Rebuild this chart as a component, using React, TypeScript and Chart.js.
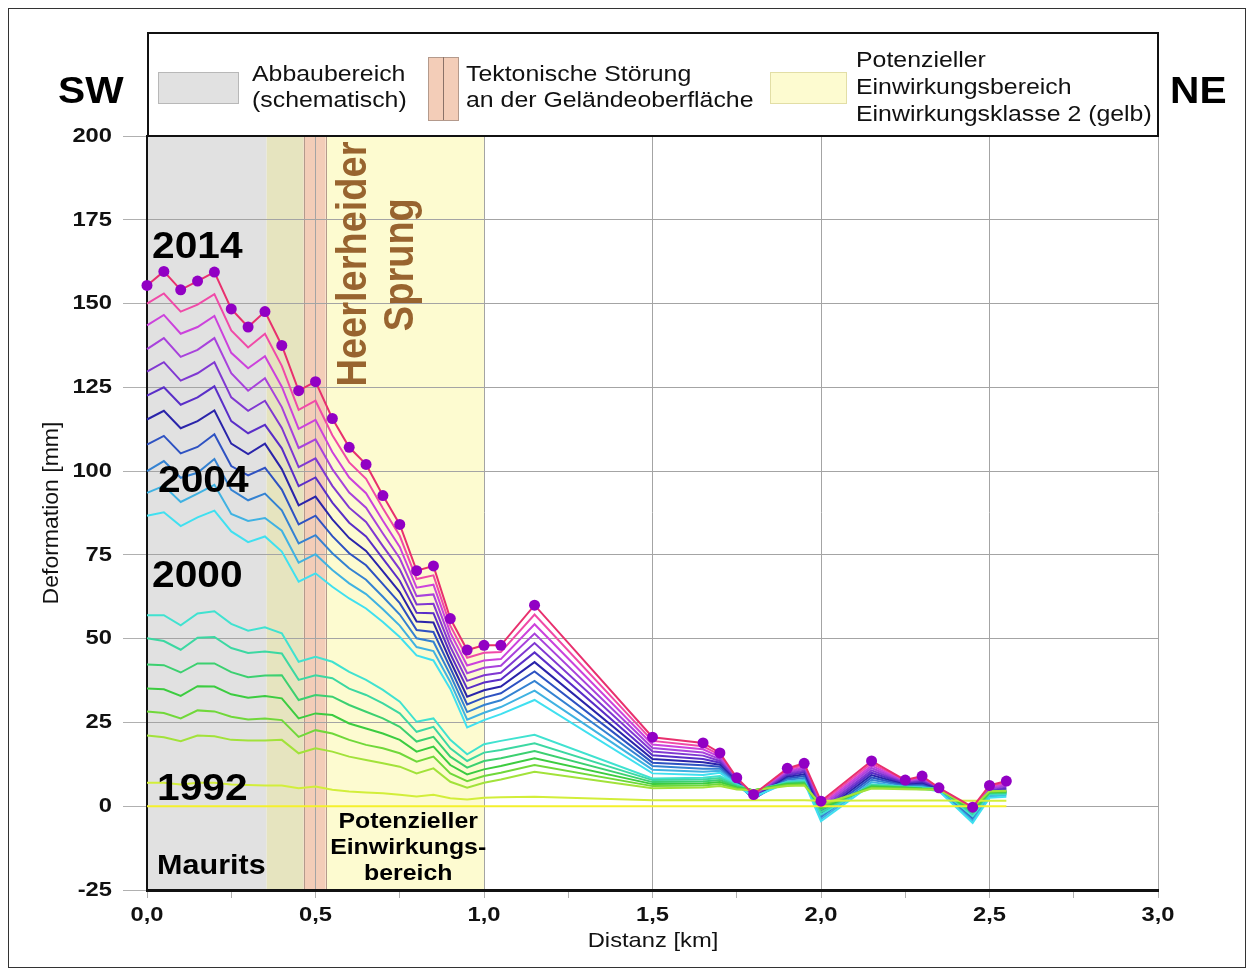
import React, { useEffect, useRef } from "react";
import { Chart, registerables } from "chart.js";

Chart.register(...registerables);

// ---------- data ----------
const distanceKm = [0, 0.05, 0.1, 0.15, 0.2, 0.25, 0.3, 0.35, 0.4, 0.45, 0.5, 0.55, 0.6, 0.65, 0.7, 0.75, 0.8, 0.85, 0.9, 0.95, 1.0, 1.05, 1.15, 1.5, 1.65, 1.7, 1.75, 1.8, 1.9, 1.95, 2.0, 2.15, 2.25, 2.3, 2.35, 2.45, 2.5, 2.55];

const y2014 = [155.4, 159.6, 154.1, 156.7, 159.4, 148.4, 143.0, 147.6, 137.5, 124.0, 126.7, 115.7, 107.1, 102.0, 92.7, 84.1, 70.3, 71.7, 56.0, 46.6, 48.0, 48.0, 60.0, 20.6, 18.9, 15.9, 8.5, 3.5, 11.3, 12.8, 1.5, 13.5, 7.8, 9.0, 5.5, -0.3, 6.2, 7.5];
const y2013 = [150.0, 153.0, 147.6, 149.7, 152.8, 142.0, 136.9, 141.0, 131.4, 118.3, 121.0, 110.7, 102.6, 97.7, 88.9, 80.7, 67.8, 68.9, 53.9, 44.3, 45.8, 46.0, 57.2, 19.5, 17.9, 15.3, 8.3, 3.2, 10.9, 12.3, 0.9, 12.8, 7.6, 8.6, 5.4, -0.8, 5.8, 7.0];
const y2012 = [143.5, 146.6, 141.0, 143.0, 146.3, 135.3, 130.7, 134.3, 125.2, 112.6, 115.3, 105.7, 98.1, 93.4, 85.2, 77.4, 65.2, 66.1, 51.8, 42.0, 43.5, 43.9, 54.3, 18.4, 17.0, 14.7, 8.1, 3.0, 10.4, 11.7, 0.3, 12.1, 7.3, 8.3, 5.3, -1.2, 5.5, 6.6];
const y2011 = [136.4, 139.7, 134.1, 136.2, 139.7, 129.2, 124.0, 127.7, 119.1, 106.9, 109.5, 100.6, 93.6, 89.1, 81.4, 74.0, 62.7, 63.2, 49.7, 39.7, 41.3, 41.9, 51.5, 17.4, 16.0, 14.1, 7.8, 2.8, 10.0, 11.2, -0.3, 11.4, 7.1, 7.9, 5.2, -1.7, 5.1, 6.1];
const y2010 = [129.7, 132.5, 127.0, 129.2, 132.5, 122.0, 118.0, 121.0, 112.9, 101.2, 103.8, 95.6, 89.1, 84.8, 77.6, 70.7, 60.2, 60.4, 47.6, 37.4, 39.1, 39.8, 48.7, 16.3, 15.1, 13.5, 7.6, 2.6, 9.6, 10.6, -0.9, 10.7, 6.9, 7.5, 5.1, -2.2, 4.7, 5.6];
const y2009 = [122.5, 125.0, 119.8, 122.0, 125.3, 114.9, 111.3, 113.8, 106.8, 95.5, 98.1, 90.6, 84.6, 80.5, 73.9, 67.3, 57.7, 57.6, 45.5, 35.1, 36.9, 37.8, 45.9, 15.2, 14.1, 13.0, 7.4, 2.4, 9.2, 10.1, -1.5, 10.0, 6.7, 7.2, 5.0, -2.7, 4.4, 5.2];
const y2008 = [115.4, 118.0, 112.8, 114.9, 118.1, 108.2, 105.1, 108.2, 100.6, 89.8, 92.4, 85.6, 80.0, 76.2, 70.1, 63.9, 55.1, 54.8, 43.4, 32.7, 34.6, 35.7, 43.0, 14.1, 13.1, 12.4, 7.2, 2.2, 8.7, 9.5, -2.1, 9.3, 6.4, 6.8, 4.9, -3.1, 4.0, 4.7];
const y2007 = [107.9, 110.5, 105.3, 107.2, 111.0, 101.5, 98.7, 101.0, 94.5, 84.1, 86.7, 80.6, 75.5, 71.9, 66.3, 60.6, 52.6, 52.0, 41.3, 30.4, 32.4, 33.7, 40.2, 13.0, 12.2, 11.8, 7.0, 2.2, 8.3, 9.0, -2.7, 8.6, 6.2, 6.4, 4.8, -3.6, 3.6, 4.2];
const y2006 = [100.0, 103.0, 98.0, 99.5, 103.6, 94.4, 91.3, 93.3, 88.3, 78.4, 80.9, 75.5, 71.0, 67.6, 62.5, 57.2, 50.1, 49.1, 39.2, 28.1, 30.2, 31.6, 37.4, 12.0, 11.2, 11.2, 6.7, 2.3, 7.9, 8.4, -3.3, 7.9, 6.0, 6.0, 4.7, -4.1, 3.2, 3.7];
const y2005 = [93.5, 95.6, 90.8, 93.3, 95.9, 87.2, 85.1, 86.0, 82.2, 72.7, 75.2, 70.5, 66.5, 63.3, 58.8, 53.9, 47.5, 46.3, 37.1, 25.8, 27.9, 29.6, 34.5, 10.9, 10.3, 10.6, 6.5, 2.5, 7.4, 7.9, -3.9, 7.2, 5.7, 5.7, 4.6, -4.5, 2.9, 3.3];
const y2004 = [86.7, 87.7, 83.6, 86.2, 88.2, 82.0, 78.8, 80.5, 76.0, 67.0, 69.5, 65.5, 62.0, 59.0, 55.0, 50.5, 45.0, 43.5, 35.0, 23.5, 25.7, 27.5, 31.7, 9.8, 9.3, 10.0, 6.3, 2.8, 7.0, 7.3, -4.5, 6.5, 5.5, 5.3, 4.5, -5.0, 2.5, 2.8];
const y2000 = [57, 57, 54, 57.5, 58.2, 54.4, 52.4, 53.4, 51.6, 43.1, 44.6, 43.1, 40.1, 37.7, 34.7, 31.2, 25.2, 26.2, 19.8, 15.5, 18.5, 19.5, 21.3, 8.3, 8.5, 9, 6.5, 4.5, 7.2, 7.5, -2.5, 6.5, 5.8, 5.5, 5.3, -3, 3.5, 3.6];
const y1999 = [50.1, 49.3, 46.7, 50.3, 50.5, 47.2, 45.7, 46.2, 45.6, 37.7, 39.1, 38.2, 35.1, 33.2, 30.7, 27.7, 22.2, 23.7, 17.3, 13.5, 16, 16.8, 18.8, 7.8, 8, 8.4, 6.2, 4.6, 7, 7.3, -1.8, 6.3, 5.7, 5.4, 5.3, -2.3, 3.8, 3.9];
const y1998 = [42.3, 42.1, 39.9, 42.6, 42.6, 40, 38.5, 39, 39.1, 31.7, 33.2, 32.7, 30.2, 28.2, 26.2, 23.7, 19.3, 20.7, 14.8, 11.5, 13.5, 14.3, 16.5, 7.2, 7.4, 7.8, 5.9, 4.7, 6.8, 7, -1, 6, 5.6, 5.3, 5.2, -1.8, 4, 4.1];
const y1997 = [35.1, 34.9, 32.9, 35.8, 35.7, 33.4, 32.4, 32.9, 32.2, 26.2, 27.7, 27.2, 24.7, 23.2, 21.7, 19.8, 16.3, 17.8, 12.3, 9.5, 11, 12, 14.3, 6.6, 6.8, 7.2, 5.6, 4.8, 6.6, 6.8, -0.5, 5.8, 5.5, 5.2, 5.1, -1.2, 4.2, 4.3];
const y1996 = [28.3, 27.8, 26.2, 28.6, 28.3, 26.7, 25.9, 26.2, 25.7, 20.7, 22.7, 21.7, 19.8, 18.3, 17.3, 15.8, 13.3, 14.8, 9.8, 7.5, 9, 10, 12.3, 6, 6.2, 6.6, 5.3, 4.8, 6.3, 6.5, 0, 5.5, 5.3, 5.1, 5, -0.8, 4.4, 4.5];
const y1995 = [21.1, 20.6, 19.4, 21.1, 20.9, 19.8, 19.6, 19.6, 19.8, 15.8, 17.3, 16.3, 14.8, 13.8, 12.8, 11.8, 9.8, 11.3, 7.3, 5.5, 7, 8, 10.3, 5.4, 5.6, 6, 5, 4.8, 6, 6.2, 0.5, 5.3, 5.1, 5, 4.9, -0.4, 4.5, 4.6];
const y1994 = [7, 7, 6.5, 7, 7, 6.5, 6.3, 6.2, 6.2, 5.4, 5.9, 4.9, 4.4, 4.1, 3.9, 3.4, 2.9, 3.4, 2.4, 2, 2.5, 2.7, 2.8, 1.8, 1.8, 1.8, 1.8, 1.8, 1.8, 1.8, 1.6, 1.7, 1.7, 1.7, 1.7, 1.6, 1.6, 1.6];
const y1992 = [0, 0, 0, 0, 0, 0, 0, 0, 0, 0, 0, 0, 0, 0, 0, 0, 0, 0, 0, 0, 0, 0, 0, 0, 0, 0, 0, 0, 0, 0, 0, 0, 0, 0, 0, 0, 0, 0];

const seriesYears = ["2014", "2013", "2012", "2011", "2010", "2009", "2008", "2007", "2006", "2005", "2004", "2000", "1999", "1998", "1997", "1996", "1995", "1994", "1992"];
const seriesColors = ["#e8306e", "#f04aa8", "#cc42dc", "#a842dc", "#8038d2", "#5a2ec8", "#2a24aa", "#2e52c2", "#3482d2", "#40b2e2", "#40e0f0", "#40e2d0", "#3cd8a2", "#3cd070", "#3ccc40", "#70d83a", "#a2e23a", "#d2ee3a", "#f4f02c"];

const yTickValues = [200, 175, 150, 125, 100, 75, 50, 25, 0, -25];
const xTickValues = [0, 0.5, 1.0, 1.5, 2.0, 2.5, 3.0];

// zones along the profile (km)
const abbauKm = [0, 0.355];
const overlapKm = [0.355, 0.465];
const einwirkungKm = [0.53, 1.0];
const stoerungKm = [0.465, 0.53];

// in-plot labels: text, km, mm
const yearLabels: [string, number, number][] = [
  ["2014", 0.015, 166.6],
  ["2004", 0.033, 96.7],
  ["2000", 0.015, 68.4],
  ["1992", 0.03, 4.8],
];

const FONT = '"Liberation Sans", Arial, Helvetica, sans-serif';
const SX = 1.13;

export default function App() {
  const ref = useRef<HTMLCanvasElement>(null);

  useEffect(() => {
    const canvas = ref.current;
    if (!canvas) return;
    const series = [y2014, y2013, y2012, y2011, y2010, y2009, y2008, y2007, y2006, y2005, y2004, y2000, y1999, y1998, y1997, y1996, y1995, y1994, y1992];

    const datasets = series.map((vals, i) => ({
      label: seriesYears[i],
      data: vals.map((v, j) => ({ x: distanceKm[j], y: v })),
      borderColor: seriesColors[i],
      backgroundColor: seriesColors[i],
      borderWidth: 2,
      pointRadius: i === 0 ? 5.5 : 0,
      pointHoverRadius: i === 0 ? 5.5 : 0,
      pointBackgroundColor: "#9200c4",
      pointBorderWidth: 0,
      tension: 0,
      fill: false,
      clip: false as any,
      order: i === 0 ? 0 : series.length - i,
    }));

    const T = (
      ctx: CanvasRenderingContext2D,
      s: string,
      x: number,
      y: number,
      font: string,
      color = "#000",
      align: CanvasTextAlign = "left",
      rot = 0,
      k = SX
    ) => {
      ctx.save();
      ctx.translate(x, y);
      if (rot) {
        ctx.rotate(rot);
        ctx.scale(1, k);
      } else {
        ctx.scale(k, 1);
      }
      ctx.font = font;
      ctx.fillStyle = color;
      ctx.textAlign = align;
      ctx.textBaseline = "middle";
      ctx.fillText(s, 0, 0);
      ctx.restore();
    };

    const deco = {
      id: "deco",
      beforeDraw(chart: any) {
        const { ctx, chartArea: a } = chart;
        const xs = chart.scales.x;
        ctx.save();
        ctx.fillStyle = "#ffffff";
        ctx.fillRect(0, 0, chart.width, chart.height);
        const band = (r: number[], color: string) => {
          const p0 = xs.getPixelForValue(r[0]);
          const p1 = xs.getPixelForValue(r[1]);
          ctx.fillStyle = color;
          ctx.fillRect(p0, a.top, p1 - p0, a.bottom - a.top);
        };
        band(abbauKm, "#e1e1e1");
        band(overlapKm, "#e6e4bf");
        band(einwirkungKm, "#fdfbd0");
        band(stoerungKm, "#f3cdb8");
        // fault border lines
        ctx.strokeStyle = "#b49a8c";
        ctx.lineWidth = 1;
        for (const v of stoerungKm) {
          const p = Math.round(xs.getPixelForValue(v)) + 0.5;
          ctx.beginPath();
          ctx.moveTo(p, a.top);
          ctx.lineTo(p, a.bottom);
          ctx.stroke();
        }
        ctx.restore();
      },
      afterDraw(chart: any) {
        const { ctx, chartArea: a } = chart;
        const xs = chart.scales.x;
        const ys = chart.scales.y;
        ctx.save();

        // outer frame
        ctx.strokeStyle = "#333";
        ctx.lineWidth = 1;
        ctx.strokeRect(8.5, 8.5, 1237, 959);

        // legend box
        ctx.fillStyle = "#fff";
        ctx.fillRect(148, 33, 1010, 103);
        ctx.strokeStyle = "#111";
        ctx.lineWidth = 2;
        ctx.strokeRect(148, 33, 1010, 103);

        // swatches
        ctx.lineWidth = 1;
        ctx.fillStyle = "#e1e1e1";
        ctx.fillRect(158, 72, 80, 31);
        ctx.strokeStyle = "#b8b8b8";
        ctx.strokeRect(158.5, 72.5, 80, 31);

        ctx.fillStyle = "#f3cdb8";
        ctx.fillRect(428, 57, 30, 63);
        ctx.strokeStyle = "#b49a8c";
        ctx.strokeRect(428.5, 57.5, 30, 63);
        ctx.strokeStyle = "#8a7268";
        ctx.beginPath();
        ctx.moveTo(443.5, 57);
        ctx.lineTo(443.5, 120);
        ctx.stroke();

        ctx.fillStyle = "#fdfbd0";
        ctx.fillRect(770, 72, 76, 31);
        ctx.strokeStyle = "#e2dea6";
        ctx.strokeRect(770.5, 72.5, 76, 31);

        const lf = `22px ${FONT}`;
        T(ctx, "Abbaubereich", 252, 75, lf, "#111");
        T(ctx, "(schematisch)", 252, 101, lf, "#111");
        T(ctx, "Tektonische Störung", 466, 75, lf, "#111");
        T(ctx, "an der Geländeoberfläche", 466, 101, lf, "#111");
        T(ctx, "Potenzieller", 856, 61, lf, "#111");
        T(ctx, "Einwirkungsbereich", 856, 88, lf, "#111");
        T(ctx, "Einwirkungsklasse 2 (gelb)", 856, 115, lf, "#111");

        // SW / NE
        T(ctx, "SW", 58, 93, `bold 36px ${FONT}`);
        T(ctx, "NE", 1170, 93, `bold 36px ${FONT}`);

        // tick labels
        for (const v of yTickValues) {
          T(ctx, String(v), 112, ys.getPixelForValue(v), `bold 21px ${FONT}`, "#111", "right");
        }
        for (const v of xTickValues) {
          T(ctx, v.toFixed(1).replace(".", ","), xs.getPixelForValue(v), 915, `bold 21px ${FONT}`, "#111", "center");
        }

        // axis titles
        T(ctx, "Distanz [km]", (a.left + a.right) / 2 + 0.5, 941, `21px ${FONT}`, "#111", "center");
        T(ctx, "Deformation [mm]", 52, (a.top + a.bottom) / 2, `23px ${FONT}`, "#111", "center", -Math.PI / 2, 0.95);

        // year labels
        for (const [s, km, mm] of yearLabels) {
          T(ctx, s, xs.getPixelForValue(km), ys.getPixelForValue(mm), `bold 36px ${FONT}`, "#000");
        }
        T(ctx, "Maurits", xs.getPixelForValue(0.03), ys.getPixelForValue(-18.1), `bold 27px ${FONT}`, "#000");

        const pf = `bold 22px ${FONT}`;
        const pcx = xs.getPixelForValue(0.775);
        T(ctx, "Potenzieller", pcx, ys.getPixelForValue(-4.8), pf, "#000", "center");
        T(ctx, "Einwirkungs-", pcx, ys.getPixelForValue(-12.5), pf, "#000", "center");
        T(ctx, "bereich", pcx, ys.getPixelForValue(-20.3), pf, "#000", "center");

        // fault name
        const brown = "#98642f";
        T(ctx, "Heerlerheider", xs.getPixelForValue(0.616), ys.getPixelForValue(161.8), `bold 38px ${FONT}`, brown, "center", -Math.PI / 2);
        T(ctx, "Sprung", xs.getPixelForValue(0.753), ys.getPixelForValue(161.6), `bold 38px ${FONT}`, brown, "center", -Math.PI / 2);

        ctx.restore();
      },
    };

    const chart = new Chart(canvas, {
      type: "line",
      data: { datasets: datasets as any },
      options: {
        responsive: false,
        devicePixelRatio: 1,
        animation: false,
        events: [],
        layout: { padding: { left: 0, top: 136, right: 96, bottom: 0 } },
        plugins: { legend: { display: false }, tooltip: { enabled: false } },
        scales: {
          x: {
            type: "linear",
            min: 0,
            max: 3,
            ticks: { stepSize: 0.25, display: false },
            grid: {
              color: (c: any) => {
                const v = c.tick ? c.tick.value : 0;
                return Math.abs(v * 2 - Math.round(v * 2)) < 1e-6 ? "#a4a4a4" : "rgba(0,0,0,0)";
              },
              tickColor: "#b0b0b0",
              tickLength: 8,
              lineWidth: 1,
            },
            border: { display: true, color: "#111", width: 3 },
            afterFit: (s: any) => {
              s.height = 85;
            },
          },
          y: {
            type: "linear",
            min: -25,
            max: 200,
            ticks: { stepSize: 25, display: false },
            grid: { color: "#a4a4a4", tickColor: "#b0b0b0", tickLength: 24, lineWidth: 1 },
            border: { display: true, color: "#111", width: 2 },
            afterFit: (s: any) => {
              s.width = 147;
            },
          },
        },
      },
      plugins: [deco],
    });

    return () => chart.destroy();
  }, []);

  return (
    <div style={{ position: "fixed", left: 0, top: 0, width: 1254, height: 975, overflow: "hidden", background: "#fff" }}>
      <canvas ref={ref} width={1254} height={975} style={{ display: "block" }} />
    </div>
  );
}
